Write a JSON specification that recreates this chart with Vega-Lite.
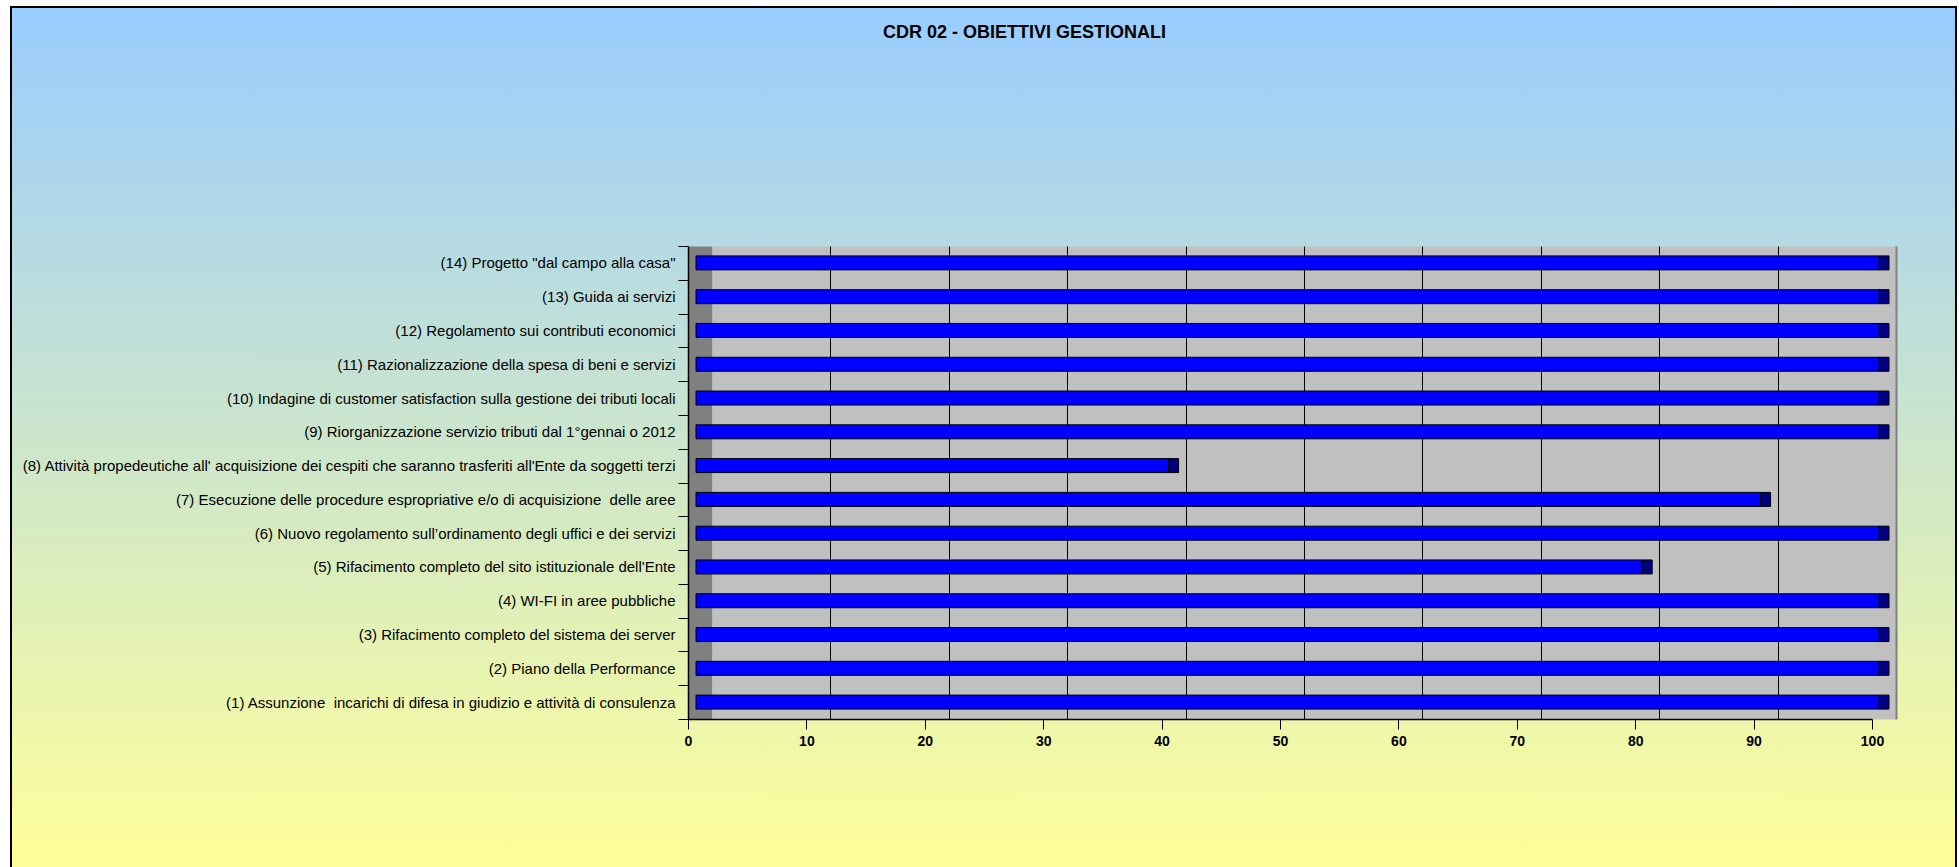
{
  "$schema": "https://vega.github.io/schema/vega-lite/v6.json",
  "width": 1945,
  "height": 862,
  "autosize": {"type": "none"},
  "padding": {"left": 11, "top": 7, "right": 3, "bottom": -2},
  "background": "white",
  "view": {
    "fill": {"gradient": "linear", "x1": 0, "y1": 0, "x2": 0, "y2": 1,
      "stops": [{"offset": 0, "color": "#99CCFF"}, {"offset": 1, "color": "#FFFF99"}]},
    "stroke": "black",
    "strokeWidth": 2
  },
  "title": {
    "text": "CDR 02 - OBIETTIVI GESTIONALI",
    "anchor": "start",
    "frame": "group",
    "orient": "top",
    "offset": 0,
    "dx": 872,
    "dy": 42,
    "font": "Liberation Sans",
    "fontSize": 18,
    "fontWeight": "bold",
    "color": "black"
  },
  "data": {
    "values": [
      {"label": "(14) Progetto \"dal campo alla casa\"", "value": 100},
      {"label": "(13) Guida ai servizi", "value": 100},
      {"label": "(12) Regolamento sui contributi economici", "value": 100},
      {"label": "(11) Razionalizzazione della spesa di beni e servizi", "value": 100},
      {"label": "(10) Indagine di customer satisfaction sulla gestione dei tributi locali", "value": 100},
      {"label": "(9) Riorganizzazione servizio tributi dal 1°gennai o 2012", "value": 100},
      {"label": "(8) Attività propedeutiche all' acquisizione dei cespiti che saranno trasferiti all'Ente da soggetti terzi\u00a0", "value": 40},
      {"label": "(7) Esecuzione delle procedure espropriative e/o di acquisizione\u00a0 delle aree", "value": 90},
      {"label": "(6) Nuovo regolamento sull’ordinamento degli uffici e dei servizi", "value": 100},
      {"label": "(5) Rifacimento completo del sito istituzionale dell'Ente\u00a0", "value": 80},
      {"label": "(4) WI-FI in aree pubbliche", "value": 100},
      {"label": "(3) Rifacimento completo del sistema dei server", "value": 100},
      {"label": "(2) Piano della Performance", "value": 100},
      {"label": "(1) Assunzione\u00a0 incarichi di difesa in giudizio e attività di consulenza", "value": 100}
    ]
  },
  "encoding": {
    "y": {
      "field": "label",
      "type": "nominal",
      "sort": null,
      "scale": {
        "domain": [
          "(14) Progetto \"dal campo alla casa\"",
          "(13) Guida ai servizi",
          "(12) Regolamento sui contributi economici",
          "(11) Razionalizzazione della spesa di beni e servizi",
          "(10) Indagine di customer satisfaction sulla gestione dei tributi locali",
          "(9) Riorganizzazione servizio tributi dal 1°gennai o 2012",
          "(8) Attività propedeutiche all' acquisizione dei cespiti che saranno trasferiti all'Ente da soggetti terzi\u00a0",
          "(7) Esecuzione delle procedure espropriative e/o di acquisizione\u00a0 delle aree",
          "(6) Nuovo regolamento sull’ordinamento degli uffici e dei servizi",
          "(5) Rifacimento completo del sito istituzionale dell'Ente\u00a0",
          "(4) WI-FI in aree pubbliche",
          "(3) Rifacimento completo del sistema dei server",
          "(2) Piano della Performance",
          "(1) Assunzione\u00a0 incarichi di difesa in giudizio e attività di consulenza"
        ],
        "range": [239, 712],
        "paddingInner": 0,
        "paddingOuter": 0
      },
      "axis": {
        "orient": "left",
        "offset": -677,
        "title": null,
        "grid": false,
        "tickBand": "extent",
        "tickSize": 10,
        "tickColor": "black",
        "tickWidth": 1,
        "domainColor": "black",
        "domainWidth": 1.5,
        "labelFont": "Liberation Sans",
        "labelFontSize": 15,
        "labelColor": "black",
        "labelPadding": 3,
        "labelLimit": 1000
      }
    }
  },
  "layer": [
    {
      "mark": {"type": "bar", "height": 14, "fill": "#000080", "stroke": "black", "strokeWidth": 1, "xOffset": 7, "x2Offset": 17},
      "encoding": {
        "x": {
          "field": "value",
          "type": "quantitative",
          "scale": {"domain": [0, 100], "range": [677, 1861], "nice": false, "zero": true},
          "axis": {
            "orient": "top",
            "title": null,
            "values": [0, 51],
            "tickOffset": 12,
            "grid": true,
            "ticks": false,
            "labels": false,
            "domain": false,
            "gridOpacity": 1,
            "gridWidth": {"condition": {"test": "datum.value === 0", "value": 24}, "value": 1184},
            "gridColor": {"condition": {"test": "datum.value === 0", "value": "#808080"}, "value": "#C0C0C0"}
          }
        },
        "x2": {"field": "value"}
      }
    },
    {
      "mark": {"type": "bar", "height": 14, "fill": "#0000FF", "strokeWidth": 0, "xOffset": 7, "x2Offset": 8},
      "encoding": {
        "x": {
          "field": "value",
          "type": "quantitative",
          "scale": {"domain": [0, 100], "range": [677, 1861], "nice": false, "zero": true},
          "axis": {
            "orient": "top",
            "title": null,
            "values": [10, 20, 30, 40, 50, 60, 70, 80, 90, 100],
            "tickOffset": 24,
            "grid": true,
            "ticks": false,
            "labels": false,
            "domain": false,
            "gridOpacity": 1,
            "gridWidth": {"condition": {"test": "datum.value === 100", "value": 2}, "value": 1},
            "gridColor": {"condition": {"test": "datum.value === 100", "value": "#808080"}, "value": "#000000"}
          }
        },
        "x2": {"datum": 0}
      }
    },
    {
      "mark": {"type": "bar", "height": 14, "filled": false, "stroke": "black", "strokeWidth": 1, "xOffset": 7, "x2Offset": 8},
      "encoding": {
        "x": {
          "field": "value",
          "type": "quantitative",
          "scale": {"domain": [0, 100], "range": [677, 1861], "nice": false, "zero": true},
          "axis": {
            "orient": "bottom",
            "offset": -150,
            "title": null,
            "values": [0, 10, 20, 30, 40, 50, 60, 70, 80, 90, 100],
            "grid": false,
            "tickSize": 10,
            "tickColor": "black",
            "tickWidth": 1,
            "domainColor": "black",
            "domainWidth": 1.5,
            "labelFont": "Liberation Sans",
            "labelFontSize": 14,
            "labelFontWeight": "bold",
            "labelColor": "black",
            "labelPadding": 5,
            "labelFlush": false
          }
        },
        "x2": {"datum": 0}
      }
    }
  ],
  "resolve": {"axis": {"x": "independent"}},
  "config": {
    "font": "Liberation Sans"
  }
}
